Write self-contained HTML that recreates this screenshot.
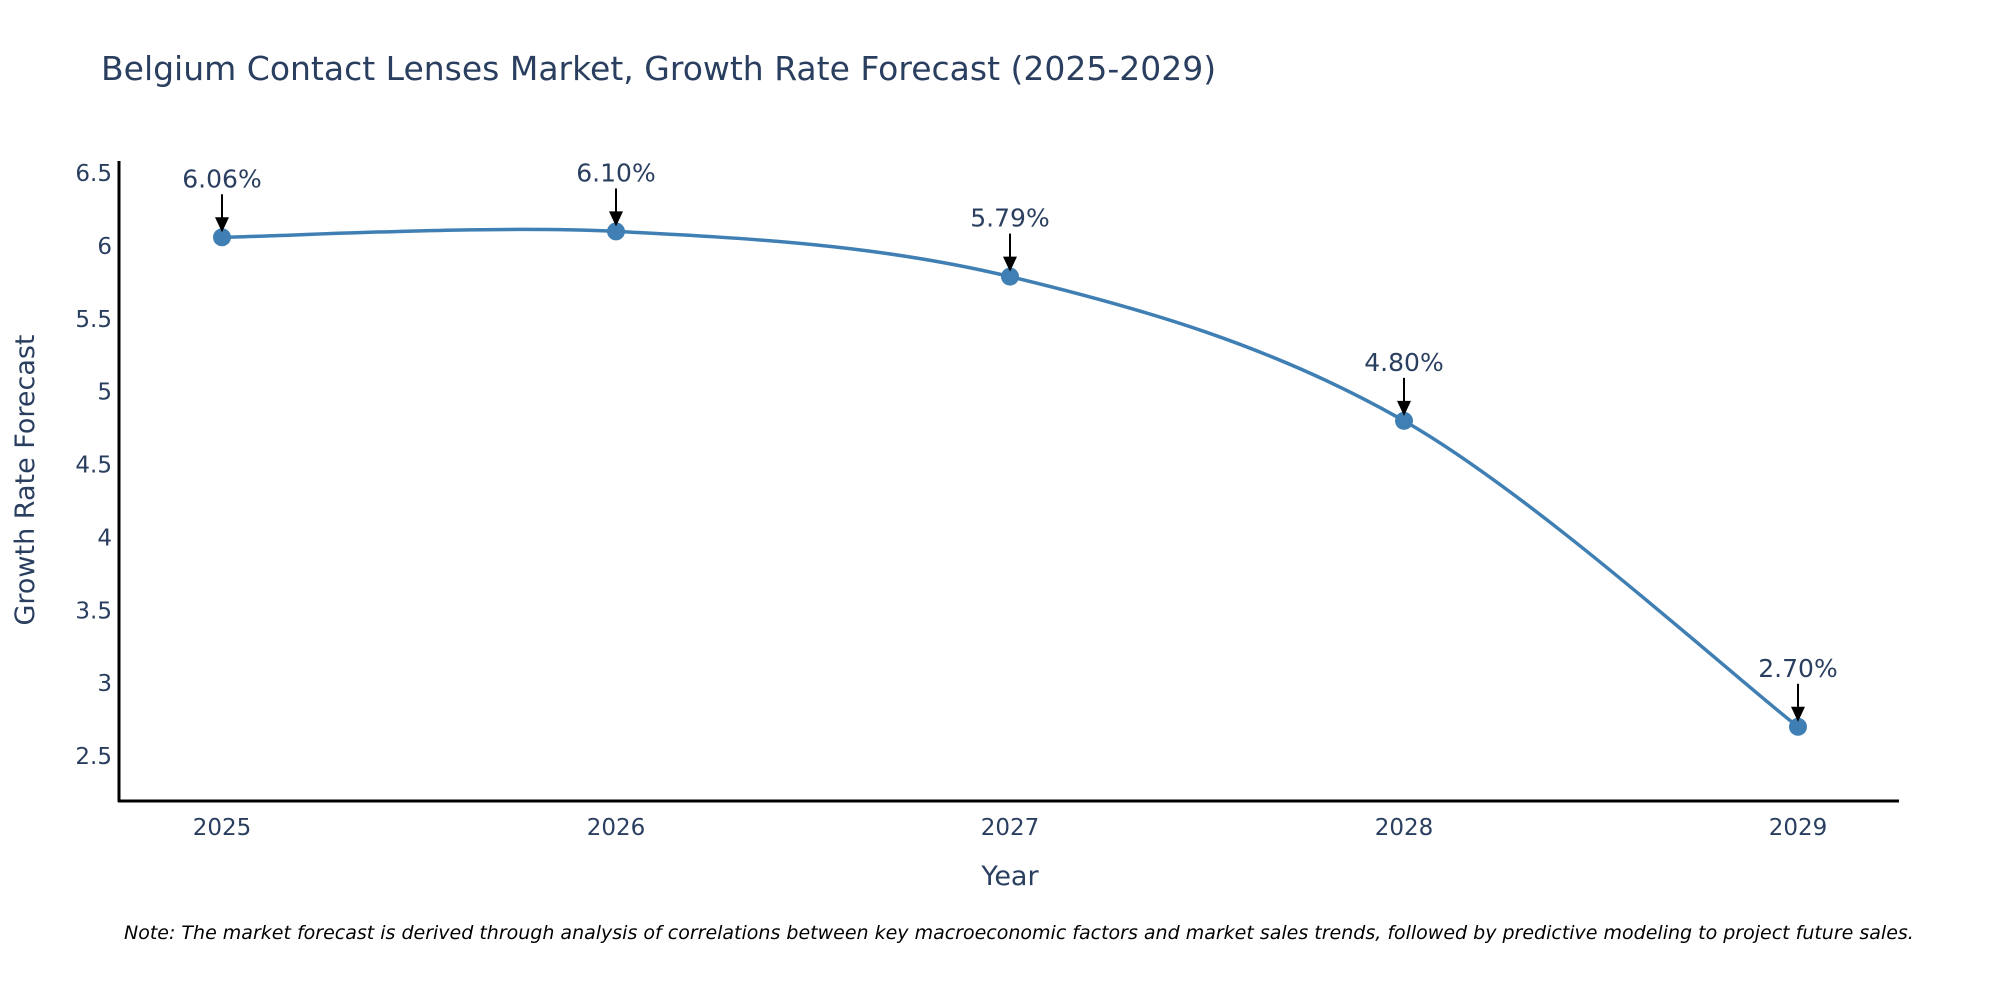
<!DOCTYPE html>
<html><head><meta charset="utf-8"><style>
body{margin:0;background:#fff}
svg text{font-family:"DejaVu Sans","Liberation Sans",sans-serif}
</style></head><body>
<svg id="chart" width="2000" height="1000" xmlns="http://www.w3.org/2000/svg">
<text x="101" y="80" font-size="33" fill="#2a3f5f">Belgium Contact Lenses Market, Growth Rate Forecast (2025-2029)</text>
<g id="yticks"></g>
<g id="xticks"></g>
<line x1="119" y1="161" x2="119" y2="802" stroke="#000" stroke-width="3"/>
<line x1="118" y1="801" x2="1899" y2="801" stroke="#000" stroke-width="3"/>
<text transform="translate(34,480) rotate(-90)" text-anchor="middle" font-size="27" fill="#2a3f5f">Growth Rate Forecast</text>
<text x="1010" y="885" text-anchor="middle" font-size="27" fill="#2a3f5f">Year</text>
<g id="series"></g>
<g id="annots"></g>
<text x="124" y="939" font-size="19" font-style="italic" fill="#000">Note: The market forecast is derived through analysis of correlations between key macroeconomic factors and market sales trends, followed by predictive modeling to project future sales.</text>
</svg>
<script>
const years = ["2025","2026","2027","2028","2029"];
const values = [6.06, 6.10, 5.79, 4.80, 2.70];
const yTickLabels = ["2.5","3","3.5","4","4.5","5","5.5","6","6.5"];
const yTickValues = [2.5,3,3.5,4,4.5,5,5.5,6,6.5];

const NS="http://www.w3.org/2000/svg";
const x0=222, xStep=394;
function xs(i){return x0+i*xStep;}
function ys(v){return 246+(6-v)*145.7;}
function mk(tag,attrs,parent){const e=document.createElementNS(NS,tag);for(const k in attrs)e.setAttribute(k,attrs[k]);parent.appendChild(e);return e;}

const yt=document.getElementById('yticks');
yTickValues.forEach((v,i)=>{
  const t=mk('text',{x:112,y:ys(v)+8,'text-anchor':'end','font-size':'23',fill:'#2a3f5f'},yt);
  
  
  t.textContent=yTickLabels[i];
});
const xt=document.getElementById('xticks');
years.forEach((y,i)=>{
  const t=mk('text',{x:xs(i),y:835,'text-anchor':'middle','font-size':'23',fill:'#2a3f5f'},xt);
  
  
  t.textContent=y;
});

const pts=values.map((v,i)=>[xs(i),ys(v)]);
let d="M"+pts[0][0]+","+pts[0][1];
for(let i=0;i<pts.length-1;i++){
  const p0=pts[i-1]||pts[i],p1=pts[i],p2=pts[i+1],p3=pts[i+2]||p2;
  const k=1/6;
  const c1=[p1[0]+(p2[0]-p0[0])*k,p1[1]+(p2[1]-p0[1])*k];
  const c2=[p2[0]-(p3[0]-p1[0])*k,p2[1]-(p3[1]-p1[1])*k];
  d+=` C${c1[0]},${c1[1]} ${c2[0]},${c2[1]} ${p2[0]},${p2[1]}`;
}
const s=document.getElementById('series');
const line=mk('path',{d:d,fill:'none',stroke:'#3f7fb3','stroke-width':'3.5'},s);


pts.forEach((p,i)=>{
  const c=mk('circle',{cx:p[0],cy:p[1],r:9,fill:'#3f7fb3'},s);
  
  
});
const a=document.getElementById('annots');
pts.forEach((p,i)=>{
  const ln=mk('line',{x1:p[0],y1:p[1]-43,x2:p[0],y2:p[1]-18,stroke:'#000','stroke-width':'2'},a);
  
  
  const hd=mk('path',{d:`M${p[0]-7},${p[1]-20} L${p[0]+7},${p[1]-20} L${p[0]},${p[1]-5} Z`,fill:'#000'},a);
  
  
  const t=mk('text',{x:p[0],y:p[1]-50,'text-anchor':'middle','font-size':'25',fill:'#2a3f5f'},a);
  
  
  t.textContent=values[i].toFixed(2)+'%';
});
</script>
</body></html>
